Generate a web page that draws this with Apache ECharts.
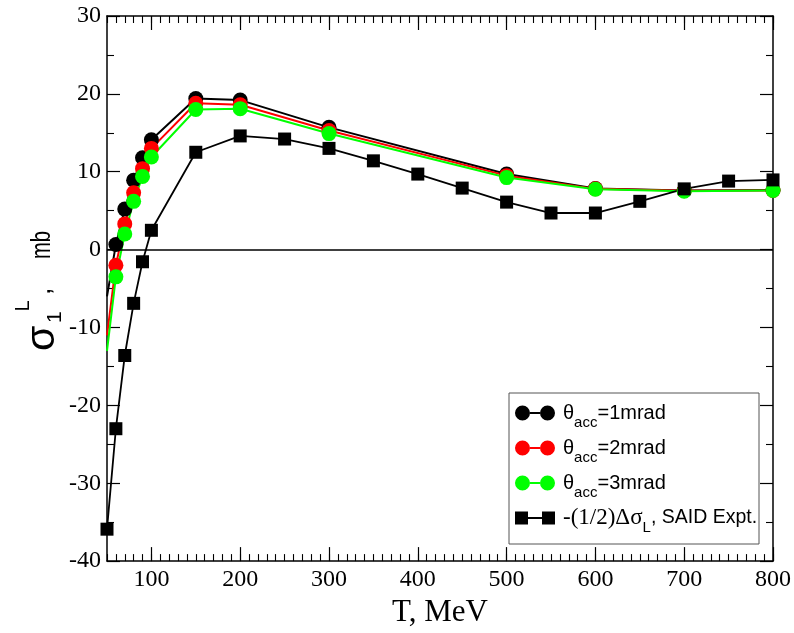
<!DOCTYPE html>
<html><head><meta charset="utf-8">
<script src="https://cdn.jsdelivr.net/npm/echarts@6/dist/echarts.min.js"></script>
<style>html,body{margin:0;padding:0;background:#fff}#c{width:794px;height:633px}</style>
</head><body><div id="c"></div>
<script>
// ---- data ----
const T_calc = [50, 60, 70, 80, 90, 100, 150, 200, 300, 500, 600, 700, 800];
const sig_1mrad = [-6.0, 0.65, 5.2, 8.9, 11.8, 14.1, 19.4, 19.2, 15.7, 9.7, 7.85, 7.6, 7.65];
const sig_2mrad = [-11.0, -2.0, 3.3, 7.3, 10.4, 13.0, 18.8, 18.6, 15.3, 9.5, 7.8, 7.55, 7.6];
const sig_3mrad = [-13.0, -3.5, 2.0, 6.2, 9.4, 11.9, 18.0, 18.1, 14.9, 9.25, 7.75, 7.5, 7.6];
const calcMarker = [false, true, true, true, true, true, true, true, true, true, true, true, true];
const T_said = [50, 60, 70, 80, 90, 100, 150, 200, 250, 300, 350, 400, 450, 500, 550, 600, 650, 700, 750, 800];
const said = [-35.9, -23.0, -13.6, -6.9, -1.56, 2.48, 12.5, 14.6, 14.2, 13.0, 11.4, 9.7, 7.9, 6.1, 4.7, 4.7, 6.2, 7.8, 8.8, 8.95];
const xTickLabels = ['100', '200', '300', '400', '500', '600', '700', '800'];
const yTickLabels = ['-40', '-30', '-20', '-10', '0', '10', '20', '30'];
const seriesNames = ['θacc=1mrad', 'θacc=2mrad', 'θacc=3mrad', 'SAID'];
const legendTexts = {
  'θacc=1mrad': '{t|θ}{s|acc}{n|=1mrad}',
  'θacc=2mrad': '{t|θ}{s|acc}{n|=2mrad}',
  'θacc=3mrad': '{t|θ}{s|acc}{n|=3mrad}',
  'SAID': '{m|-(1/2)Δσ}{s|L}{k|, SAID Expt.}'
};

// ---- helpers ----
const xCats = [];
for (let v = 50; v <= 800; v += 10) xCats.push(String(v));
function calcData(vals) {
  return T_calc.map((t, i) => calcMarker[i] ? [t, vals[i]] : { value: [t, vals[i]], symbol: 'none' });
}
const circ = 'path://M0,7.5A7.5,7.5 0 1,0 15,7.5A7.5,7.5 0 1,0 0,7.5Z M25,7.5A7.5,7.5 0 1,0 40,7.5A7.5,7.5 0 1,0 25,7.5Z M15,6.5L25,6.5L25,8.5L15,8.5Z';
const sq = 'path://M0,1L13,1L13,14L0,14Z M27,1L40,1L40,14L27,14Z M13,6.5L27,6.5L27,8.5L13,8.5Z';

const serif = 'Liberation Serif';
const sans = 'Liberation Sans';
const black = '#000';

const chart = echarts.init(document.getElementById('c'), null, { renderer: 'canvas' });
const majorX = (i, v) => xTickLabels.indexOf(String(v)) >= 0;
const noLine = { show: false, onZero: false, lineStyle: { color: black } };
const frame = { show: true, onZero: false, lineStyle: { color: black, width: 1.5 } };

function catX(pos, major, extra) {
  return Object.assign({
    type: 'category', position: pos, data: xCats, boundaryGap: false,
    axisLine: noLine,
    axisTick: major
      ? { show: true, inside: true, length: 14, interval: majorX, lineStyle: { color: black, width: 1.2 } }
      : { show: true, inside: true, length: 7, interval: 0, lineStyle: { color: black, width: 1.1 } },
    axisLabel: { show: false }, splitLine: { show: false }
  }, extra || {});
}
function valY(pos, labels) {
  return {
    type: 'value', position: pos, min: -40, max: 30, interval: 10,
    axisLine: frame,
    axisTick: { show: true, inside: true, length: 13, lineStyle: { color: black, width: 1.2 } },
    minorTick: { show: true, splitNumber: 2, length: 7, lineStyle: { color: black, width: 1.1 } },
    axisLabel: labels
      ? { show: true, margin: 6, color: black, fontFamily: serif, fontSize: 24,
          formatter: v => (yTickLabels.indexOf(String(v)) >= 0 ? String(v) : '') }
      : { show: false },
    splitLine: { show: false }, minorSplitLine: { show: false }
  };
}

chart.setOption({
  animation: false,
  backgroundColor: '#fff',
  grid: { left: 107, right: 17, top: 16, bottom: 69, containLabel: false },
  xAxis: [
    { type: 'value', position: 'bottom', min: 50, max: 800, interval: 50,
      axisLine: frame, axisTick: { show: false }, axisLabel: { show: false }, splitLine: { show: false } },
    catX('bottom', false),
    catX('bottom', true, {
      axisLabel: { show: true, interval: majorX, margin: 7, color: black, fontFamily: serif, fontSize: 24 },
      name: 'T, MeV', nameLocation: 'middle', nameGap: 31,
      nameTextStyle: { color: black, fontFamily: serif, fontSize: 31 } }),
    catX('top', false, { axisLine: frame }),
    catX('top', true)
  ],
  yAxis: [valY('left', true), valY('right', false)],
  legend: {
    orient: 'vertical', left: 515, top: 395.5, padding: 0, z: 20,
    itemWidth: 40, itemHeight: 15, itemGap: 0, selectedMode: false,
    data: [
      { name: seriesNames[0], icon: circ },
      { name: seriesNames[1], icon: circ },
      { name: seriesNames[2], icon: circ },
      { name: seriesNames[3], icon: sq }
    ],
    formatter: name => legendTexts[name],
    textStyle: {
      color: black,
      rich: {
        t: { fontFamily: sans, fontSize: 20, lineHeight: 35, padding: [7.5, 0, 0, 3], verticalAlign: 'top', color: black },
        m: { fontFamily: serif, fontSize: 23, lineHeight: 35, padding: [6, 0, 0, 3], verticalAlign: 'top', color: black },
        n: { fontFamily: sans, fontSize: 20, lineHeight: 35, padding: [7.5, 0, 0, 0], verticalAlign: 'top', color: black },
        k: { fontFamily: sans, fontSize: 19.5, lineHeight: 35, padding: [7.5, 0, 0, 0], verticalAlign: 'top', color: black },
        s: { fontFamily: sans, fontSize: 15, lineHeight: 35, padding: [20, 0, 0, 0], verticalAlign: 'top', color: black }
      }
    }
  },
  graphic: [
    { type: 'rect', z: 10, shape: { x: 509, y: 393, width: 250, height: 151 },
      style: { fill: '#fff', stroke: '#555', lineWidth: 1 } },
    { type: 'group', x: 57, y: 352, rotation: Math.PI / 2, children: [
      { type: 'text', x: 1, y: -14.5, style: { text: 'σ', font: '41px "Liberation Sans"', fill: black, verticalAlign: 'middle', align: 'left' } },
      { type: 'text', x: 29, y: -1.3, style: { text: '1', font: '21px "Liberation Sans"', fill: black, verticalAlign: 'middle', align: 'left' } },
      { type: 'text', x: 40.5, y: -33.9, style: { text: 'L', font: '20px "Liberation Sans"', fill: black, verticalAlign: 'middle', align: 'left' } },
      { type: 'text', x: 57, y: -14, style: { text: ',', font: '26px "Liberation Sans"', fill: black, verticalAlign: 'middle', align: 'left' } },
      { type: 'text', x: 93, y: -14, scaleX: 0.75, style: { text: 'mb', font: '27px "Liberation Sans"', fill: black, verticalAlign: 'middle', align: 'left' } }
    ] }
  ],
  series: [
    { name: seriesNames[0], type: 'line', xAxisIndex: 0, yAxisIndex: 0, data: calcData(sig_1mrad),
      symbol: 'circle', symbolSize: 15, color: '#000',
      lineStyle: { color: '#000', width: 2 }, itemStyle: { color: '#000' },
      markLine: { silent: true, symbol: 'none', label: { show: false },
        lineStyle: { color: '#000', width: 1.5, type: 'solid' }, data: [{ yAxis: 0 }] } },
    { name: seriesNames[1], type: 'line', xAxisIndex: 0, yAxisIndex: 0, data: calcData(sig_2mrad),
      symbol: 'circle', symbolSize: 15, color: '#ff0000',
      lineStyle: { color: '#ff0000', width: 2 }, itemStyle: { color: '#ff0000' } },
    { name: seriesNames[2], type: 'line', xAxisIndex: 0, yAxisIndex: 0, data: calcData(sig_3mrad),
      symbol: 'circle', symbolSize: 15, color: '#00ff00',
      lineStyle: { color: '#00ff00', width: 2 }, itemStyle: { color: '#00ff00' } },
    { name: seriesNames[3], type: 'line', xAxisIndex: 0, yAxisIndex: 0,
      data: T_said.map((t, i) => [t, said[i]]),
      symbol: 'rect', symbolSize: 13, color: '#000',
      lineStyle: { color: '#000', width: 1.8 }, itemStyle: { color: '#000' } }
  ]
});
</script></body></html>
